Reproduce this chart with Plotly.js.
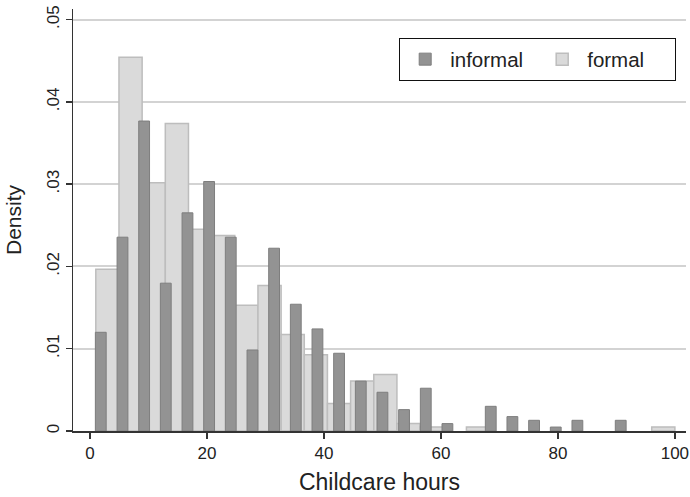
<!DOCTYPE html>
<html>
<head>
<meta charset="utf-8">
<script src="https://cdn.plot.ly/plotly-3.0.1.min.js"></script>
<style>html,body{margin:0;padding:0;background:#fff;}#chart{width:690px;height:497px;}</style>
</head>
<body>
<div id="chart"></div>
<script>
// Informal childcare: bin midpoints (hours) and densities
var informalHours = [1.85, 5.56, 9.26, 12.96, 16.67, 20.37, 24.07, 27.78, 31.48, 35.19, 38.89, 42.59, 46.30, 50.00, 53.70, 57.41, 61.11, 68.52, 72.22, 75.93, 79.63, 83.33, 90.74];
var informalDensity = [0.0120, 0.02356, 0.03768, 0.01797, 0.02652, 0.03033, 0.02356, 0.00985, 0.02222, 0.01541, 0.01241, 0.00945, 0.00606, 0.00471, 0.0026, 0.0052, 0.0009, 0.0030, 0.00175, 0.0013, 0.00048, 0.0013, 0.0013];

// Formal childcare: bin midpoints (hours) and densities
var formalHours = [2.98, 6.94, 10.90, 14.86, 18.82, 22.78, 26.74, 30.70, 34.66, 38.62, 42.58, 46.54, 50.50, 54.46, 58.42, 66.34, 98.02];
var formalDensity = [0.01967, 0.04542, 0.03017, 0.03739, 0.02454, 0.02376, 0.01529, 0.01768, 0.01172, 0.00928, 0.00333, 0.00608, 0.00687, 0.0009, 0.0005, 0.0005, 0.0005];

var xTicks = [0, 20, 40, 60, 80, 100];
var yTicks = [0, 0.01, 0.02, 0.03, 0.04, 0.05];
var yTickLabels = ['0', '.01', '.02', '.03', '.04', '.05'];

var FONT = 'Liberation Sans, Arial, Helvetica, sans-serif';

var traces = [
  {
    type: 'bar', name: 'formal', x: formalHours, y: formalDensity, width: 3.96,
    marker: {color: '#dadada', line: {color: '#bdbdbd', width: 1.5}},
    hoverinfo: 'x+y'
  },
  {
    type: 'bar', name: 'informal', x: informalHours, y: informalDensity, width: 1.85,
    marker: {color: '#939393', line: {color: '#7e7e7e', width: 1}},
    hoverinfo: 'x+y'
  }
];

var layout = {
  width: 690, height: 497,
  margin: {l: 73, r: 4, t: 9, b: 66},
  paper_bgcolor: '#ffffff', plot_bgcolor: '#ffffff',
  font: {family: FONT, color: '#222'},
  barmode: 'overlay', bargap: 0,
  showlegend: true,
  legend: {
    orientation: 'h', traceorder: 'reversed',
    x: 0.5318, xanchor: 'left', y: 0.931, yanchor: 'top',
    bordercolor: '#111', borderwidth: 1.2, bgcolor: '#fff',
    font: {family: FONT, size: 20.5, color: '#222'},
    itemwidth: 40, entrywidth: 82
  },
  xaxis: {
    range: [-2.9, 101.9], tickmode: 'array', tickvals: xTicks,
    ticks: 'outside', ticklen: 6, tickwidth: 1.5, tickcolor: '#333',
    showline: true, linecolor: '#333', linewidth: 1.5,
    showgrid: false, zeroline: false,
    tickfont: {family: FONT, size: 17, color: '#222'},
    title: {text: 'Childcare hours', standoff: 12, font: {family: FONT, size: 23, color: '#222'}}
  },
  yaxis: {
    range: [0, 0.0513], tickmode: 'array', tickvals: yTicks, ticktext: yTickLabels,
    tickangle: -90,
    ticks: 'outside', ticklen: 6, tickwidth: 1.5, tickcolor: '#333',
    showline: true, linecolor: '#333', linewidth: 1.5,
    showgrid: true, gridcolor: '#d3d3d3', gridwidth: 2, zeroline: false,
    tickfont: {family: FONT, size: 17, color: '#222'},
    title: {text: 'Density', font: {family: FONT, size: 21, color: '#222'}}
  }
};

Plotly.newPlot('chart', traces, layout, {displayModeBar: false, staticPlot: true});
</script>
</body>
</html>
